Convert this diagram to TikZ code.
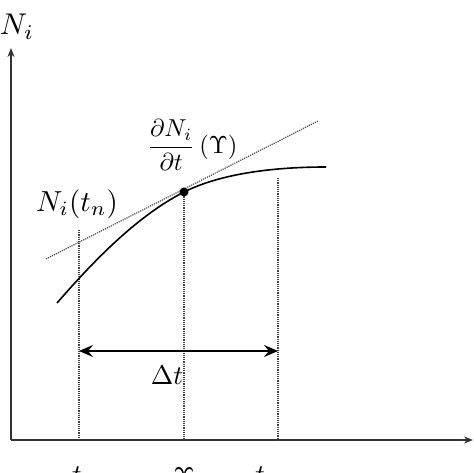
\documentclass[tikz,border=0pt]{standalone}
\usepackage{graphicx}
\usetikzlibrary{arrows.meta}
\begin{document}
\begin{tikzpicture}[x=1pt,y=-1pt,
  axis/.style={line width=1.6pt,draw=black!80,-{Stealth[length=9pt,width=7pt]}},
  guide/.style={line width=1.1pt,dash pattern=on 1.2pt off 1pt,draw=black!75},
  curvestyle/.style={line width=1.6pt},
  lbl/.style={inner sep=0pt}]
\useasboundingbox (0,0) rectangle (474,473);
\begin{scope}
\clip (0,0) rectangle (474,473);
% axes
\coordinate (O) at (11,440);
\coordinate (ytip) at (11,48);
\coordinate (xtip) at (473,440);
\draw[axis] (O) -- (ytip);
\draw[axis] (O) -- (xtip);
\node[lbl] (ylab) at (17,27) {\scalebox{3.0}{$N_i$}};
% guide lines
\coordinate (g1t) at (79,230); \coordinate (g1b) at (79,440);
\coordinate (g2t) at (184,192); \coordinate (g2b) at (184,440);
\coordinate (g3t) at (278,178); \coordinate (g3b) at (278,440);
\draw[guide] (g1t) -- (g1b);
\draw[guide] (g2t) -- (g2b);
\draw[guide] (g3t) -- (g3b);
% tangent
\coordinate (ta) at (46,259); \coordinate (tb) at (318,121);
\draw[guide] (ta) -- (tb);
% curve
\coordinate (cs) at (57,303); \coordinate (P) at (184,192); \coordinate (ce) at (326,167);
\draw[curvestyle] (cs) .. controls (97,257) and (139,215) .. (P)
  .. controls (226,171) and (285,167) .. (ce);
\fill (P) circle (4.5pt);
% delta t arrow
\coordinate (da) at (79,351); \coordinate (db) at (278,351);
\draw[line width=1.6pt,{Stealth[length=14pt,width=12pt,inset=5pt]}-{Stealth[length=14pt,width=12pt,inset=5pt]}] (da) -- (db);
\node[lbl] (dt) at (167,375) {\scalebox{2.7}{$\Delta t$}};
% labels
\node[lbl] (nt) at (77,204) {\scalebox{2.9}{$N_i(t_n)$}};
\node[lbl,anchor=west] (dn) at (147,145) {\scalebox{2.45}{$\displaystyle\frac{\partial N_i}{\partial t}\,(\Upsilon)$}};
\node[lbl,anchor=base] (x1) at (84,483) {\scalebox{2.7}{$t_n$}};
\node[lbl,anchor=base] (x2) at (184,486) {\scalebox{2.7}{$\Upsilon$}};
\node[lbl,anchor=base] (x3) at (281,483) {\scalebox{2.7}{$t_{n+1}$}};
\end{scope}
\end{tikzpicture}
\end{document}
